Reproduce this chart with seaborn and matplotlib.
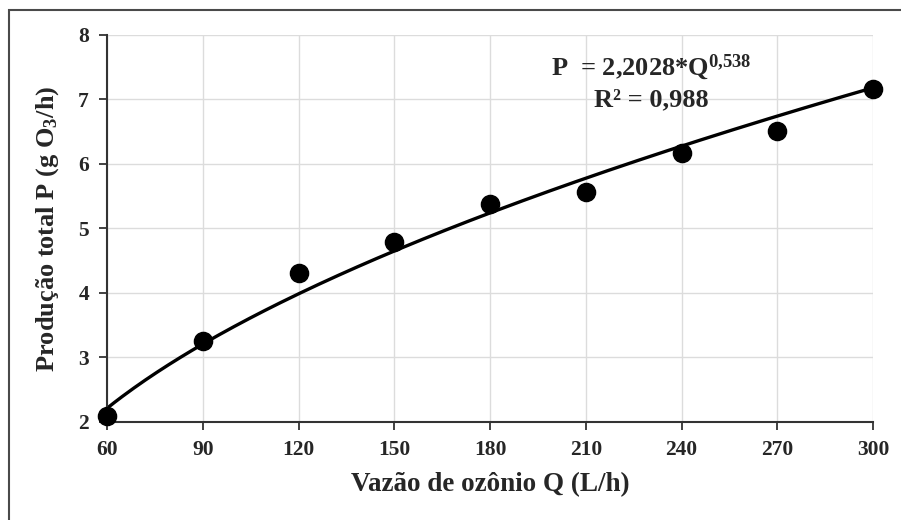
import matplotlib
matplotlib.use("Agg")
import matplotlib.pyplot as plt
import numpy as np
import pandas as pd
import seaborn as sns
from matplotlib.patches import Rectangle

# dados
vazao = [60, 90, 120, 150, 180, 210, 240, 270, 300]
producao = [2.09, 3.26, 4.31, 4.79, 5.38, 5.57, 6.17, 6.51, 7.16]
x_ticks = [60, 90, 120, 150, 180, 210, 240, 270, 300]
y_ticks = [2, 3, 4, 5, 6, 7, 8]

sns.set_theme(style="ticks")
plt.rcParams["font.family"] = ["Liberation Serif", "DejaVu Serif"]
plt.rcParams["font.weight"] = "bold"
plt.rcParams["mathtext.fontset"] = "custom"
plt.rcParams["mathtext.rm"] = "Liberation Serif:bold"
plt.rcParams["mathtext.it"] = "Liberation Serif:bold"
plt.rcParams["mathtext.bf"] = "Liberation Serif:bold"

df = pd.DataFrame({"Q": vazao, "P": producao})

# linha de tendencia do Excel (potencia sobre o indice do ponto 1..n)
idx = np.arange(1, len(vazao) + 1)
b, loga = np.polyfit(np.log(idx), np.log(df["P"]), 1)
qq = np.linspace(min(vazao), max(vazao), 200)
nn = 1 + (qq - vazao[0]) / (vazao[1] - vazao[0])
fit = pd.DataFrame({"Q": qq, "P": np.exp(loga) * nn ** b})

fig = plt.figure(figsize=(9.01, 5.2), dpi=100)
ax = fig.add_axes([0.1188, 0.1885, 0.969 - 0.1188, 0.9327 - 0.1885])

fig.patches.append(Rectangle((9 / 901, -0.1), 1.0, 1.1 - 10 / 520,
                             transform=fig.transFigure, fill=False,
                             edgecolor="#4a4a4a", linewidth=1.5))

sns.lineplot(data=fit, x="Q", y="P", color="black", linewidth=2.4, ax=ax)
sns.scatterplot(data=df, x="Q", y="P", color="black", s=170, edgecolor="black",
                zorder=5, clip_on=False, ax=ax)

ax.set_xlim(60, 300)
ax.set_ylim(2, 8)
ax.set_xticks(x_ticks)
ax.set_yticks(y_ticks)
ax.grid(True, color="#dcdcdc", linewidth=1)
ax.set_axisbelow(True)
sns.despine(ax=ax)
for s in ["left", "bottom"]:
    ax.spines[s].set_color("#333333")
    ax.spines[s].set_linewidth(1.5)
ax.tick_params(direction="out", length=6, width=1.3, color="#333333",
               labelsize=15.5, pad=7)
for lab in ax.get_xticklabels() + ax.get_yticklabels():
    lab.set_fontweight("bold")

ax.set_xlabel("Vazão de ozônio Q (L/h)", fontsize=19.5, fontweight="bold", labelpad=9)
ax.set_ylabel("Produção total P (g O$_3$/h)", fontsize=19, fontweight="bold", labelpad=12)

ax.text(0.71, 0.917, "P  = 2,2028*Q$^{0{,}538}$", transform=ax.transAxes,
        ha="center", va="center", fontsize=19, fontweight="bold")
ax.text(0.71, 0.832, "R² = 0,988", transform=ax.transAxes,
        ha="center", va="center", fontsize=19, fontweight="bold")

fig.savefig("out.png", dpi=100)
